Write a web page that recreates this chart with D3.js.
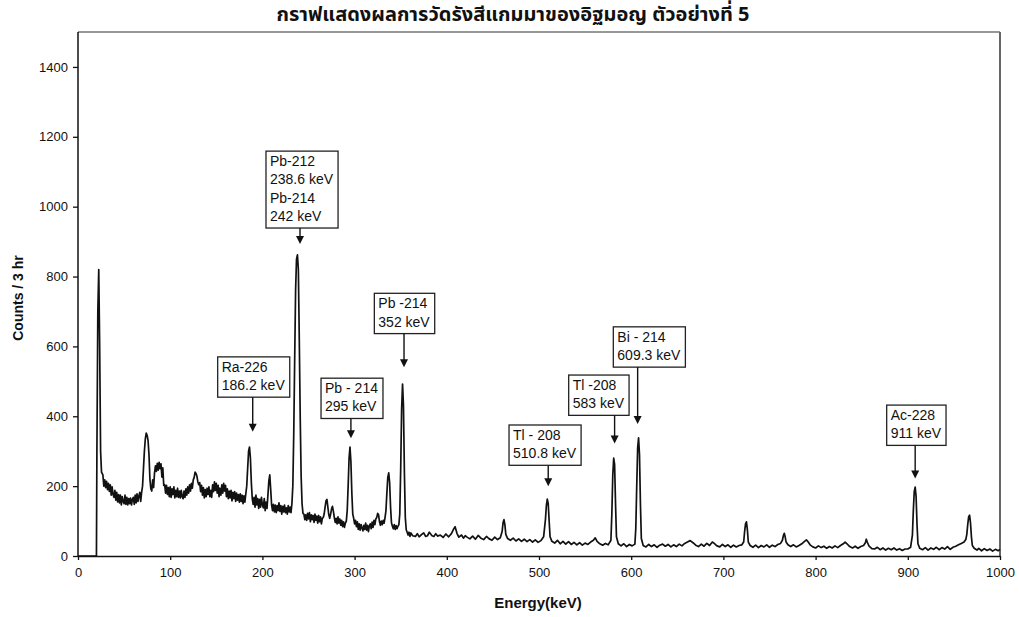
<!DOCTYPE html>
<html>
<head>
<meta charset="utf-8">
<script src="https://cdn.jsdelivr.net/npm/d3@7"></script>
<style>
  html, body { margin: 0; padding: 0; background: #fff; }
  svg { display: block; }
  text { font-family: "Liberation Sans", Arial, sans-serif; fill: #111; }
</style>
</head>
<body>
<svg id="chart" width="1019" height="617"></svg>
<script>
const chartTitle = "กราฟแสดงผลการวัดรังสีแกมมาของอิฐมอญ ตัวอย่างที่ 5";
const xTitle = "Energy(keV)";
const yTitle = "Counts / 3 hr";
const xTicks = [0, 100, 200, 300, 400, 500, 600, 700, 800, 900, 1000];
const yTicks = [0, 200, 400, 600, 800, 1000, 1200, 1400];
const xDomain = [0, 1000];
const yDomain = [0, 1500];

// [energy keV, counts]
const spectrum = [
[0,0],[19,0],[20,0],[20.5,300],[21.5,700],[22.5,820],[23.5,600],[24.5,300],[25.5,240],
[27,232],[28,200],[29,218],[30,196],[31,214],[32,190],[33,208],[34,185],[35,204],[36,174],[37,198],[38,176],[39,168],[40,188],
[41,160],[42,182],[43,155],[44,176],[45,152],[46,174],[47,146],[48,170],[49,156],[50,150],[51,174],[52,148],[53,168],[54,146],
[55,164],[56,150],[57,166],[58,146],[59,162],[60,168],[61,148],[62,174],[63,152],[64,178],[65,156],[66,172],[67,182],[68,156],
[69,182],[70,200],[71,250],[72,300],[73,335],[74,352],[75,345],[76,330],[77,290],[78,220],[79,192],[80,186],[81,218],[82,196],
[83,238],[84,258],[85,242],[86,265],[87,246],[88,268],[89,250],[90,264],[91,226],[92,252],[93,202],[94,204],[95,180],[96,202],
[97,176],[98,196],[99,170],[100,198],[101,168],[102,192],[103,176],[104,198],[105,166],[106,188],[107,170],[108,194],[109,168],
[110,186],[111,166],[112,188],[113,170],[114,164],[115,186],[116,168],[117,192],[118,174],[119,198],[120,180],[121,204],[122,186],
[123,208],[124,194],[125,218],[126,225],[127,240],[128,236],[129,228],[130,212],[131,204],[132,210],[133,184],[134,202],[135,174],
[136,196],[137,166],[138,190],[139,170],[140,194],[141,176],[142,198],[143,170],[144,188],[145,168],[146,204],[147,184],[148,212],
[149,188],[150,208],[151,180],[152,202],[153,170],[154,194],[155,174],[156,204],[157,180],[158,208],[159,186],[160,202],[161,170],
[162,192],[163,164],[164,186],[165,166],[166,188],[167,158],[168,182],[169,164],[170,184],[171,156],[172,180],[173,160],[174,176],
[175,154],[176,178],[177,156],[178,174],[179,150],[180,172],[181,154],[182,178],[183,200],[184,250],[185,300],[186,312],[187,280],
[188,210],[189,164],[190,148],[191,168],[192,140],[193,174],[194,146],[195,164],[196,136],[197,162],[198,140],[199,168],[200,146],
[201,138],[202,164],[203,130],[204,154],[205,136],[206,175],[207,215],[208,232],[209,190],[210,146],[211,130],[212,148],[213,126],
[214,146],[215,124],[216,144],[217,130],[218,152],[219,128],[220,144],[221,120],[222,142],[223,126],[224,146],[225,124],[226,138],
[227,120],[228,144],[229,126],[230,140],[231,124],[232,150],[233,200],[234,350],[235,560],[236,760],[237,850],[238,862],[239,820],
[240,620],[241,400],[242,230],[243,150],[244,122],[245,120],[246,104],[247,118],[248,102],[249,122],[250,106],[251,124],[252,98],
[253,118],[254,104],[255,116],[256,96],[257,120],[258,102],[259,114],[260,94],[261,116],[262,98],[263,112],[264,92],[265,108],
[266,110],[267,120],[268,140],[269,158],[270,162],[271,140],[272,118],[273,108],[274,120],[275,135],[276,142],[277,128],[278,110],
[279,96],[280,108],[281,92],[282,112],[283,94],[284,106],[285,88],[286,102],[287,84],[288,98],[289,82],[290,94],[291,100],[292,130],
[293,200],[294,280],[295,312],[296,270],[297,180],[298,120],[299,108],[300,92],[301,102],[302,84],[303,98],[304,76],[305,92],
[306,74],[307,90],[308,80],[309,72],[310,88],[311,76],[312,94],[313,74],[314,88],[315,70],[316,86],[317,92],[318,78],[319,97],
[320,82],[321,102],[322,90],[323,106],[324,110],[325,122],[326,118],[327,98],[328,88],[329,100],[330,90],[331,102],[332,94],
[333,110],[334,130],[335,180],[336,225],[337,238],[338,210],[339,140],[340,95],[341,85],[342,78],[343,90],[344,76],[345,87],
[346,78],[347,85],[348,90],[349,120],[350,250],[351,420],[352,492],[353,430],[354,240],[355,110],[356,75],[357,68],[358,60],
[359,68],[360,56],[361,66],[363,58],[366,56],[368,64],[370,55],[372,60],[375,66],[377,56],[379,58],[381,68],[384,58],[386,56],
[388,64],[390,57],[393,60],[396,53],[399,63],[402,55],[405,64],[407,75],[409,84],[411,65],[413,54],[416,60],[418,51],[420,58],
[422,54],[425,49],[428,57],[431,48],[434,59],[437,51],[440,47],[443,56],[446,49],[449,45],[452,54],[455,47],[458,52],[460,70],
[461,95],[462,104],[463,90],[464,62],[466,50],[469,45],[472,51],[475,43],[478,49],[481,42],[484,48],[487,41],[490,47],[493,40],
[496,46],[499,39],[502,44],[505,55],[507,105],[508,145],[509,163],[510,150],[511,100],[512,55],[514,42],[517,37],[520,45],[523,35],
[526,42],[529,34],[532,41],[535,33],[538,39],[541,32],[544,38],[547,31],[550,37],[553,33],[556,40],[559,45],[561,52],[563,42],
[566,35],[569,31],[572,36],[575,32],[578,45],[579,120],[580,230],[581,280],[582,262],[583,150],[584,55],[586,35],[589,29],[592,35],
[595,27],[598,33],[601,29],[604,34],[605,80],[606,200],[607,310],[608,338],[609,290],[610,150],[611,50],[613,30],[616,26],[619,33],
[622,27],[625,32],[628,25],[631,31],[634,34],[637,28],[640,33],[643,26],[646,32],[649,27],[652,34],[655,29],[658,36],[661,40],
[664,44],[667,38],[670,31],[673,27],[676,34],[679,28],[682,36],[685,30],[688,40],[690,36],[693,29],[696,26],[699,33],[702,27],
[705,32],[708,25],[711,31],[714,26],[717,30],[720,32],[722,40],[723,70],[724,92],[725,98],[726,75],[727,40],[729,30],[732,25],
[735,31],[738,24],[741,30],[744,26],[747,32],[750,25],[753,31],[756,27],[759,33],[762,36],[764,45],[765,58],[766,65],[767,55],
[768,40],[770,32],[773,27],[776,32],[779,26],[782,30],[785,35],[788,42],[790,46],[792,40],[794,32],[797,26],[800,23],[803,29],
[806,24],[809,28],[812,22],[815,27],[818,23],[821,29],[824,24],[827,30],[830,35],[832,40],[834,35],[837,27],[840,23],[843,28],
[846,22],[849,27],[852,30],[854,38],[855,48],[856,40],[858,28],[861,21],[864,20],[867,25],[870,18],[873,23],[876,17],[879,22],
[882,18],[885,23],[888,17],[891,21],[894,16],[897,20],[900,20],[903,25],[905,60],[906,130],[907,185],[908,197],[909,170],[910,90],
[911,35],[913,22],[916,18],[919,24],[922,17],[925,23],[928,19],[931,25],[934,18],[937,24],[940,20],[943,27],[946,19],[949,25],
[952,28],[955,32],[958,36],[961,40],[963,48],[964,62],[965,90],[966,112],[967,117],[968,95],[969,55],[970,30],[972,22],[975,17],
[977,22],[980,15],[983,21],[986,16],[989,20],[992,14],[995,19],[998,15],[1000,19]
];

// annotation callouts: arrow energy, arrow tip count, box left (keV), box top (count)
const annoLabels = [
  ["Ra-226", "186.2 keV"],
  ["Pb-212", "238.6 keV", "Pb-214", "242 keV"],
  ["Pb - 214", "295 keV"],
  ["Pb -214", "352 keV"],
  ["Tl - 208", "510.8 keV"],
  ["Tl -208", "583 keV"],
  ["Bi - 214", "609.3 keV"],
  ["Ac-228", "911 keV"]
];
const annoArrowEnergy = [189.5, 240.8, 296, 353.6, 510, 582, 607, 908];
const annoTipCount    = [356, 893, 337, 540, 200, 322, 378, 222];
const annoBoxLeft     = [151.5, 203.9, 263.6, 321.4, 467.5, 532.2, 580.6, 877.1];
const annoBoxTop      = [570, 1159, 509, 752, 375, 518, 656, 432];

const svg = d3.select("#chart");
const W = 1019, H = 617;
const x = d3.scaleLinear().domain(xDomain).range([78, 1000]);
const y = d3.scaleLinear().domain(yDomain).range([556, 32]);

svg.append("rect").attr("width", W).attr("height", H).attr("fill", "#fff");

// plot frame (top and right)
svg.append("line").attr("x1", x(0)).attr("x2", x(1000)).attr("y1", y(1500)).attr("y2", y(1500))
  .attr("stroke", "#333").attr("stroke-width", 1.2);
svg.append("line").attr("x1", x(1000)).attr("x2", x(1000)).attr("y1", y(1500)).attr("y2", y(0))
  .attr("stroke", "#666").attr("stroke-width", 2);

// axes
const yAxis = svg.append("g").attr("transform", `translate(${x(0)},0)`)
  .call(d3.axisLeft(y).tickValues(yTicks).tickFormat(d3.format("d")).tickSize(5).tickSizeOuter(0).tickPadding(5));
const xAxis = svg.append("g").attr("transform", `translate(0,${y(0)})`)
  .call(d3.axisBottom(x).tickValues(xTicks).tickFormat(d3.format("d")).tickSize(4).tickSizeOuter(0).tickPadding(8));
[xAxis, yAxis].forEach(g => {
  g.selectAll("path.domain").attr("stroke", "#111").attr("stroke-width", 1.5);
  g.selectAll(".tick line").attr("stroke", "#111").attr("stroke-width", 1.3);
  g.selectAll(".tick text").attr("fill", "#111").style("font-size", "13px")
    .style("font-family", '"Liberation Sans", Arial, sans-serif');
});
yAxis.select("path.domain").attr("d", `M0,${y(1500)}V${y(0)}`);

// spectrum line
const line = d3.line().x(d => x(d[0])).y(d => y(d[1]));
svg.append("path").datum(spectrum).attr("d", line)
  .attr("fill", "none").attr("stroke", "#111").attr("stroke-width", 1.7).attr("stroke-linejoin", "round");

// annotations
const lineH = 18.3;
annoLabels.forEach((lines, i) => {
  const g = svg.append("g");
  const bx = x(annoBoxLeft[i]), by = y(annoBoxTop[i]);
  const rect = g.append("rect");
  let maxW = 0;
  lines.forEach((t, j) => {
    const tx = g.append("text").attr("x", bx + 4).attr("y", by + 15 + j * lineH)
      .style("font-size", "14px").text(t);
    maxW = Math.max(maxW, tx.node().getComputedTextLength());
  });
  const bh = 15 + (lines.length - 1) * lineH + 7;
  rect.attr("x", bx).attr("y", by).attr("width", maxW + 9).attr("height", bh)
    .attr("fill", "#fff").attr("stroke", "#222").attr("stroke-width", 1.3);
  const ax = x(annoArrowEnergy[i]), tipY = y(annoTipCount[i]);
  g.append("line").attr("x1", ax).attr("x2", ax).attr("y1", by + bh).attr("y2", tipY - 6)
    .attr("stroke", "#111").attr("stroke-width", 1.4);
  g.append("path").attr("d", `M${ax - 4},${tipY - 8}L${ax + 4},${tipY - 8}L${ax},${tipY}Z`).attr("fill", "#111");
});

// titles
svg.append("text").attr("x", 513).attr("y", 21).attr("text-anchor", "middle")
  .style("font-family", '"Noto Sans Thai", "Tahoma", "DejaVu Sans", "Noto Sans", sans-serif')
  .style("font-size", "20px").style("font-weight", "bold").text(chartTitle);
svg.append("text").attr("x", 538).attr("y", 608).attr("text-anchor", "middle")
  .style("font-size", "15px").style("font-weight", "bold").text(xTitle);
svg.append("text").attr("transform", "translate(23,298) rotate(-90)").attr("text-anchor", "middle")
  .style("font-size", "14px").style("font-weight", "bold").text(yTitle);
</script>
</body>
</html>
